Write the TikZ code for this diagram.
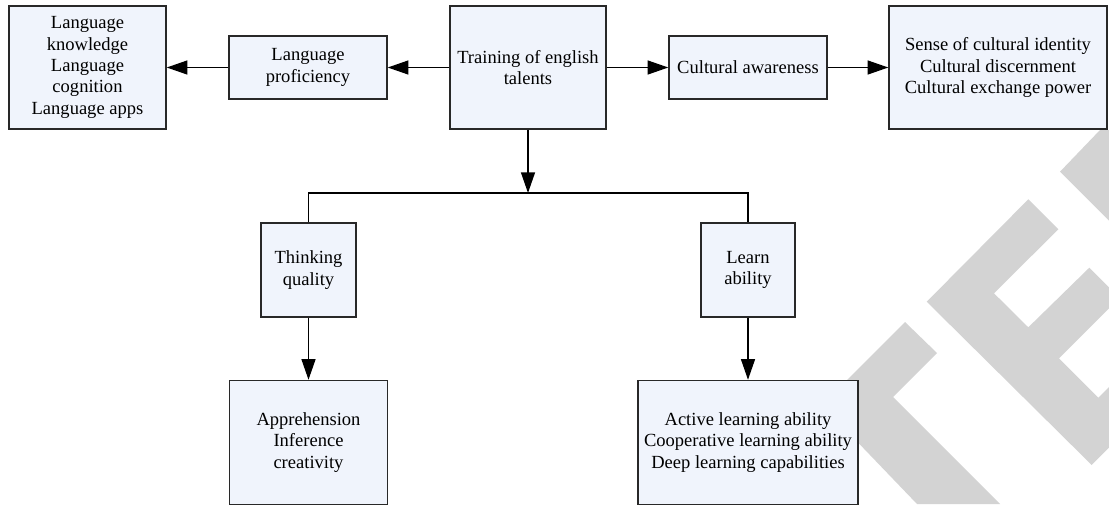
\documentclass[tikz,border=0pt]{standalone}
\usepackage{fontspec}
\setmainfont{Liberation Serif}
\usetikzlibrary{arrows.meta}
\definecolor{boxfill}{RGB}{240,244,252}
\definecolor{boxline}{RGB}{40,40,40}
\definecolor{wmark}{RGB}{211,211,211}
\begin{document}
\begin{tikzpicture}[x=0.75pt,y=-0.75pt,
  box/.style={draw=boxline, fill=boxfill, line width=1.1pt, align=center,
    inner sep=0pt, font=\fontsize{13.9}{16}\selectfont},
  conn/.style={draw=black, line width=1pt},
  arr/.style={conn, -{Triangle[length=15.5pt,width=10.5pt]}},
  wm/.style={fill=wmark, draw=none}]
\useasboundingbox (0,0) rectangle (1109,504);
% watermark
\fill[wm] (905,322) -- (937,353) -- (893,397) -- (1000,504) -- (917,504) -- (822,405) -- cycle;
\fill[wm] (1028.3,199.3) -- (1058.3,229.3) -- (994,293.3) -- (1028.3,327.3) -- (1089.3,267.7)
  -- (1109,287.3) -- (1109,308.3) -- (1059,358.3) -- (1098.3,397.7) -- (1109,387)
  -- (1109,447.7) -- (1091.7,465) -- (926.7,301.7) -- cycle;
\fill[wm] (1060,171.7) -- (1100,130) -- (1109,130) -- (1109,220.7) -- cycle;
% boxes
\node[box, minimum width=157*0.75pt, minimum height=123*0.75pt] (lk) at (87.5,67.5)
  {Language\\knowledge\\Language\\cognition\\Language apps};
\node[box, minimum width=158*0.75pt, minimum height=63*0.75pt] (lp) at (308,67.5)
  {Language\\proficiency};
\node[box, minimum width=156*0.75pt, minimum height=123*0.75pt] (tr) at (528,67.5)
  {Training of english\\talents};
\node[box, minimum width=158*0.75pt, minimum height=63*0.75pt] (ca) at (748,67.5)
  {Cultural awareness};
\node[box, minimum width=218*0.75pt, minimum height=123*0.75pt] (se) at (998,67.5)
  {Sense of cultural identity\\Cultural discernment\\Cultural exchange power};
\node[box, minimum width=95*0.75pt, minimum height=94*0.75pt] (th) at (308.5,270)
  {Thinking\\quality};
\node[box, minimum width=94*0.75pt, minimum height=94*0.75pt] (le) at (748,270)
  {Learn\\ability};
\node[box, minimum width=158*0.75pt, minimum height=124*0.75pt] (ap) at (308.5,442.5)
  {Apprehension\\Inference\\creativity};
\node[box, minimum width=220*0.75pt, minimum height=124*0.75pt] (ac) at (748,442.5)
  {Active learning ability\\Cooperative learning ability\\Deep learning capabilities};
\coordinate (j) at (528,193);
% connectors
\draw[arr] (tr.west) -- (lp.east);
\draw[arr] (lp.west) -- (lk.east);
\draw[arr] (tr.east) -- (ca.west);
\draw[arr] (ca.east) -- (se.west);
\draw[arr] (tr.south) -- (j);
\draw[conn] (th.north) |- (j) -| (le.north);
\draw[arr] (th.south) -- (ap.north);
\draw[arr] (le.south) -- (ac.north);
\end{tikzpicture}
\end{document}
